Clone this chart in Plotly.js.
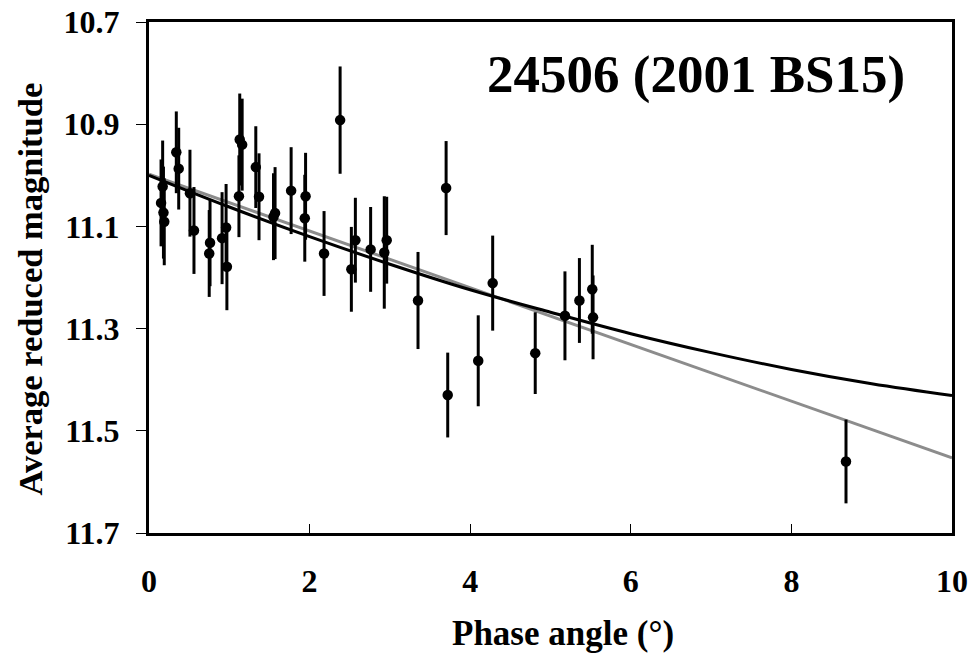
<!DOCTYPE html>
<html>
<head>
<meta charset="utf-8">
<script src="https://cdn.plot.ly/plotly-3.0.1.min.js"></script>
<style>html,body{margin:0;padding:0;background:#fff;}#chart{width:975px;height:656px;}</style>
</head>
<body>
<div id="chart"></div>
<script>
const phase = [0.15, 0.17, 0.18, 0.19, 0.34, 0.37, 0.51, 0.56, 0.75, 0.76, 0.91, 0.96, 0.97, 1.12, 1.13, 1.16, 1.33, 1.37, 1.55, 1.57, 1.77, 1.94, 1.95, 2.18, 2.38, 2.52, 2.57, 2.76, 2.93, 2.96, 3.35, 3.70, 3.72, 4.10, 4.28, 4.81, 5.18, 5.36, 5.52, 5.53, 8.68];
const magnitude = [11.054, 11.022, 11.073, 11.091, 10.955, 10.987, 11.035, 11.108, 11.153, 11.132, 11.123, 11.102, 11.179, 11.041, 10.930, 10.940, 10.984, 11.042, 11.081, 11.074, 11.030, 11.084, 11.041, 11.153, 10.892, 11.184, 11.127, 11.145, 11.151, 11.127, 11.245, 11.025, 11.430, 11.363, 11.211, 11.348, 11.275, 11.245, 11.223, 11.278, 11.560];
const magErr = [0.085, 0.09, 0.09, 0.085, 0.08, 0.08, 0.085, 0.085, 0.085, 0.085, 0.09, 0.085, 0.085, 0.08, 0.09, 0.09, 0.08, 0.085, 0.085, 0.09, 0.085, 0.085, 0.085, 0.083, 0.105, 0.083, 0.083, 0.083, 0.11, 0.085, 0.095, 0.092, 0.083, 0.089, 0.093, 0.080, 0.087, 0.083, 0.087, 0.082, 0.082];
const fitPhase = [0, 1, 2, 3, 4, 5, 6, 7, 8, 9, 10];
const fitCurve = [11.000, 11.062, 11.120, 11.174, 11.224, 11.268, 11.310, 11.347, 11.380, 11.408, 11.431];
const linPhase = [0, 10];
const linFit = [10.998, 11.553];

const serif = 'Liberation Serif, Times New Roman, serif';

const traces = [
  {x: linPhase, y: linFit, mode: 'lines', line: {color: '#8c8c8c', width: 3}, hoverinfo: 'skip'},
  {x: fitPhase, y: fitCurve, mode: 'lines', line: {color: '#000', width: 3, shape: 'spline'}, hoverinfo: 'skip'},
  {x: phase, y: magnitude, mode: 'markers', type: 'scatter',
   marker: {color: '#000', size: 10.5},
   error_y: {type: 'data', array: magErr, visible: true, color: '#000', thickness: 3, width: 0}}
];

const layout = {
  width: 975, height: 656,
  margin: {l: 149, r: 23, t: 22, b: 123},
  paper_bgcolor: '#fff', plot_bgcolor: '#fff',
  showlegend: false,
  font: {family: serif, color: '#000'},
  xaxis: {
    range: [0, 10], dtick: 2, tick0: 0,
    showgrid: false, zeroline: false,
    showline: true, linecolor: '#000', linewidth: 3, mirror: true,
    ticks: 'inside', ticklen: 9, tickwidth: 1, tickcolor: '#000',
    ticklabelstandoff: 18,
    tickfont: {family: serif, size: 32, color: '#000', weight: 'bold'}
  },
  yaxis: {
    range: [11.7, 10.7], dtick: 0.2, tick0: 10.7, tickformat: '.1f',
    showgrid: false, zeroline: false,
    showline: true, linecolor: '#000', linewidth: 3, mirror: true,
    ticks: 'outside', ticklen: 10, tickwidth: 1, tickcolor: '#000',
    ticklabelstandoff: 10,
    tickfont: {family: serif, size: 32, color: '#000', weight: 'bold'}
  },
  annotations: [
    {text: '<b>24506 (2001 BS15)</b>', xref: 'paper', yref: 'paper',
     x: 0.944, y: 0.898, xanchor: 'right', yanchor: 'middle', showarrow: false,
     font: {family: serif, size: 53, color: '#000'}},
    {text: '<b>Phase angle (°)</b>', xref: 'paper', yref: 'paper',
     x: 0.5156, y: -0.1957, xanchor: 'center', yanchor: 'middle', showarrow: false,
     font: {family: serif, size: 35, color: '#000'}},
    {text: '<b>Average reduced magnitude</b>', xref: 'paper', yref: 'paper', textangle: -90,
     x: -0.147, y: 0.4785, xanchor: 'center', yanchor: 'middle', showarrow: false,
     font: {family: serif, size: 34.5, color: '#000'}}
  ]
};

Plotly.newPlot('chart', traces, layout, {displayModeBar: false, staticPlot: true});
</script>
</body>
</html>
